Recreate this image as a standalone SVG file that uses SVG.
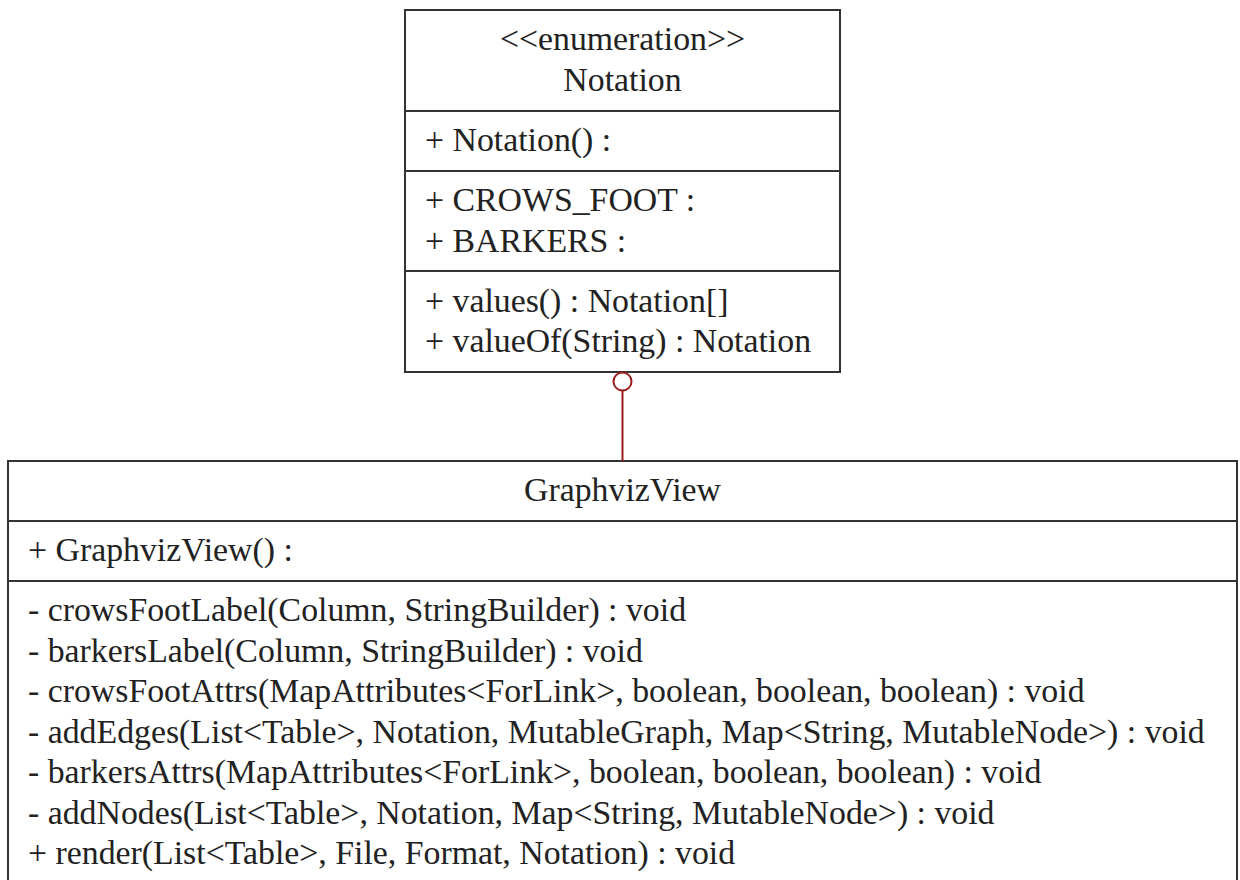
<svg xmlns="http://www.w3.org/2000/svg" width="1240" height="880" viewBox="0 0 1240 880">
  <style>
    .box { fill: #ffffff; stroke: #333333; stroke-width: 2; }
    .sep { stroke: #333333; stroke-width: 2; }
    .lbl { font-size: 33.8px; fill: #222222; }
    .title { text-anchor: middle; }
    .link { stroke: #9b1c1c; stroke-width: 2; fill: none; }
  </style>
  <rect x="0" y="0" width="1240" height="880" fill="#ffffff"/>

  <g font-family="Liberation Serif" font-size="33.8">
    <!-- enumeration Notation -->
    <g id="notation">
      <rect class="box" x="405" y="10" width="435" height="362"/>
      <text class="lbl title" x="622.5" y="50">&lt;&lt;enumeration&gt;&gt;</text>
      <text class="lbl title" x="622.5" y="91">Notation</text>
      <line class="sep" x1="405" y1="111" x2="840" y2="111"/>
      <text class="lbl" x="425" y="151">+ Notation() :</text>
      <line class="sep" x1="405" y1="171" x2="840" y2="171"/>
      <text class="lbl" x="425" y="211">+ CROWS_FOOT :</text>
      <text class="lbl" x="425" y="252">+ BARKERS :</text>
      <line class="sep" x1="405" y1="271" x2="840" y2="271"/>
      <text class="lbl" x="425" y="312">+ values() : Notation[]</text>
      <text class="lbl" x="425" y="352">+ valueOf(String) : Notation</text>
    </g>

    <!-- class GraphvizView -->
    <g id="graphvizview">
      <rect class="box" x="8" y="461" width="1229" height="440"/>
      <text class="lbl title" x="622.5" y="501">GraphvizView</text>
      <line class="sep" x1="8" y1="521" x2="1237" y2="521"/>
      <text class="lbl" x="28" y="561">+ GraphvizView() :</text>
      <line class="sep" x1="8" y1="581" x2="1237" y2="581"/>
      <text class="lbl" x="28" y="621">- crowsFootLabel(Column, StringBuilder) : void</text>
      <text class="lbl" x="28" y="662">- barkersLabel(Column, StringBuilder) : void</text>
      <text class="lbl" x="28" y="702">- crowsFootAttrs(MapAttributes&lt;ForLink&gt;, boolean, boolean, boolean) : void</text>
      <text class="lbl" x="28" y="743">- addEdges(List&lt;Table&gt;, Notation, MutableGraph, Map&lt;String, MutableNode&gt;) : void</text>
      <text class="lbl" x="28" y="783">- barkersAttrs(MapAttributes&lt;ForLink&gt;, boolean, boolean, boolean) : void</text>
      <text class="lbl" x="28" y="824">- addNodes(List&lt;Table&gt;, Notation, Map&lt;String, MutableNode&gt;) : void</text>
      <text class="lbl" x="28" y="864">+ render(List&lt;Table&gt;, File, Format, Notation) : void</text>
    </g>
  </g>

  <!-- connectors -->
  <g id="connectors">
    <line class="link" x1="622.5" y1="391" x2="622.5" y2="461"/>
    <circle class="link" cx="622.5" cy="381.5" r="9" fill="#ffffff"/>
  </g>
</svg>
